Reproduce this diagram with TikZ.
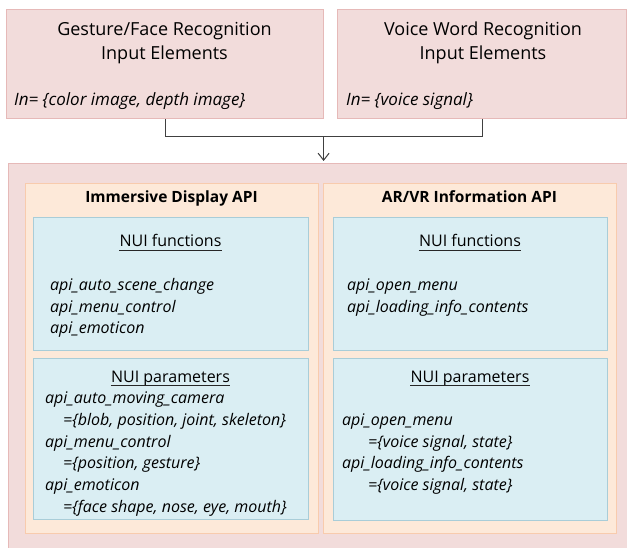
\documentclass[tikz,border=0pt]{standalone}
\usepackage{fontspec}
\setmainfont{Open Sans}
\usetikzlibrary{arrows.meta, calc}

\definecolor{pinkfill}{HTML}{F2DCDB}
\definecolor{pinkedge}{HTML}{E6B9B8}
\definecolor{peachfill}{HTML}{FDE9D9}
\definecolor{peachedge}{HTML}{F8CBAD}
\definecolor{bluefill}{HTML}{DAEEF3}
\definecolor{blueedge}{HTML}{A9CDD8}
\definecolor{connline}{HTML}{404040}

\tikzset{every node/.style={inner sep=0pt}}
\tikzset{inbox/.style={draw=pinkedge, fill=pinkfill, line width=1.2pt}}
\tikzset{colbox/.style={draw=peachedge, fill=peachfill, line width=1pt}}
\tikzset{nuibox/.style={draw=blueedge, fill=bluefill, line width=1pt}}
\tikzset{conn/.style={draw=connline, line width=1pt}}
\tikzset{underl/.style={draw=black!85, line width=0.8pt}}
\tikzset{title/.style={font=\fontsize{18}{24}\selectfont, align=center, anchor=base}}
\tikzset{intext/.style={font=\fontsize{17}{22}\selectfont\itshape, anchor=base west}}
\tikzset{colhead/.style={font=\fontsize{15.5}{20}\selectfont\bfseries, anchor=base}}
\tikzset{nuihead/.style={font=\fontsize{16}{21.7}\selectfont, anchor=base}}
\tikzset{items/.style={font=\fontsize{16}{21.7}\selectfont\itshape, align=left, anchor=base west}}

\begin{document}
\begin{tikzpicture}[x=1pt, y=-1pt]
		\clip (0,0) rectangle (627,548);

		% Input boxes
		\node[inbox, anchor=north west, minimum width=317pt, minimum height=109pt] (gest) at (6,9) {};
		\node[inbox, anchor=north west, minimum width=289pt, minimum height=109pt] (voice) at (337,9) {};
		%% base = last line
		\node[title] (gesttitle) at (164.5,60) {Gesture/Face Recognition\\Input Elements};
		\node[title] (voicetitle) at (483,60) {Voice Word Recognition\\Input Elements};
		\node[intext] (gestin) at (14,106) {In= \{color image, depth image\}};
		\node[intext] (voicein) at (346,106) {In= \{voice signal\}};

		% API box
		\node[inbox, anchor=north west, minimum width=640pt, minimum height=400pt] (api) at (8,163) {};

		% Coordinates
		%% Columns
		\coordinate (c1a) at (25,184);
		\coordinate (c1b) at (318,533);
		\coordinate (c2a) at (323,184);
		\coordinate (c2b) at (616,533);
		%% NUI boxes
		\coordinate (f1a) at (33,218);
		\coordinate (f1b) at (308,350);
		\coordinate (p1a) at (33,358);
		\coordinate (p1b) at (308,519);
		\coordinate (f2a) at (333,218);
		\coordinate (f2b) at (607,350);
		\coordinate (p2a) at (333,358);
		\coordinate (p2b) at (607,520);

		% Columns
		\draw[colbox] (c1a) rectangle (c1b);
		\draw[colbox] (c2a) rectangle (c2b);
		\node[colhead] (dispapi) at (171.5,203) {Immersive Display API};
		\node[colhead] (arvrapi) at (469.5,203) {AR/VR Information API};

		% NUI boxes
		\draw[nuibox] (f1a) rectangle (f1b);
		\draw[nuibox] (p1a) rectangle (p1b);
		\draw[nuibox] (f2a) rectangle (f2b);
		\draw[nuibox] (p2a) rectangle (p2b);

		% Texts
		\node[nuihead] (dfunc) at (170.5,247) {NUI functions};
		\node[nuihead] (dpar) at (170.5,382) {NUI parameters};
		\node[nuihead] (rfunc) at (470,247) {NUI functions};
		\node[nuihead] (rpar) at (470,382) {NUI parameters};
		\foreach \h in {dfunc, dpar, rfunc, rpar}
			\draw[underl] ([yshift=-3pt]\h.base west) -- ([yshift=-3pt]\h.base east);
		%% base = last line
		\node[items] (dfuncitems) at (50,333.8) {api\_auto\_scene\_change\\api\_menu\_control\\api\_emoticon};
		\node[items] (dparitems) at (45,512.2) {api\_auto\_moving\_camera\\\hspace*{18pt}=\{blob, position, joint, skeleton\}\\api\_menu\_control\\\hspace*{18pt}=\{position, gesture\}\\api\_emoticon\\\hspace*{18pt}=\{face shape, nose, eye, mouth\}};
		\node[items] (rfuncitems) at (347,312.1) {api\_open\_menu\\api\_loading\_info\_contents};
		\node[items] (rparitems) at (342,490.5) {api\_open\_menu\\\hspace*{26pt}=\{voice signal, state\}\\api\_loading\_info\_contents\\\hspace*{26pt}=\{voice signal, state\}};

		% Connector
		\coordinate (join) at ($(gest.south)!0.5!(voice.south)+(0,17)$);
		\draw[conn] (gest.south) |- (join) -| (voice.south);
		\draw[conn, -{Straight Barb[length=7pt, width=11pt]}, shorten >=2pt] (join) -- (join |- api.north);
	\end{tikzpicture}
\end{document}
